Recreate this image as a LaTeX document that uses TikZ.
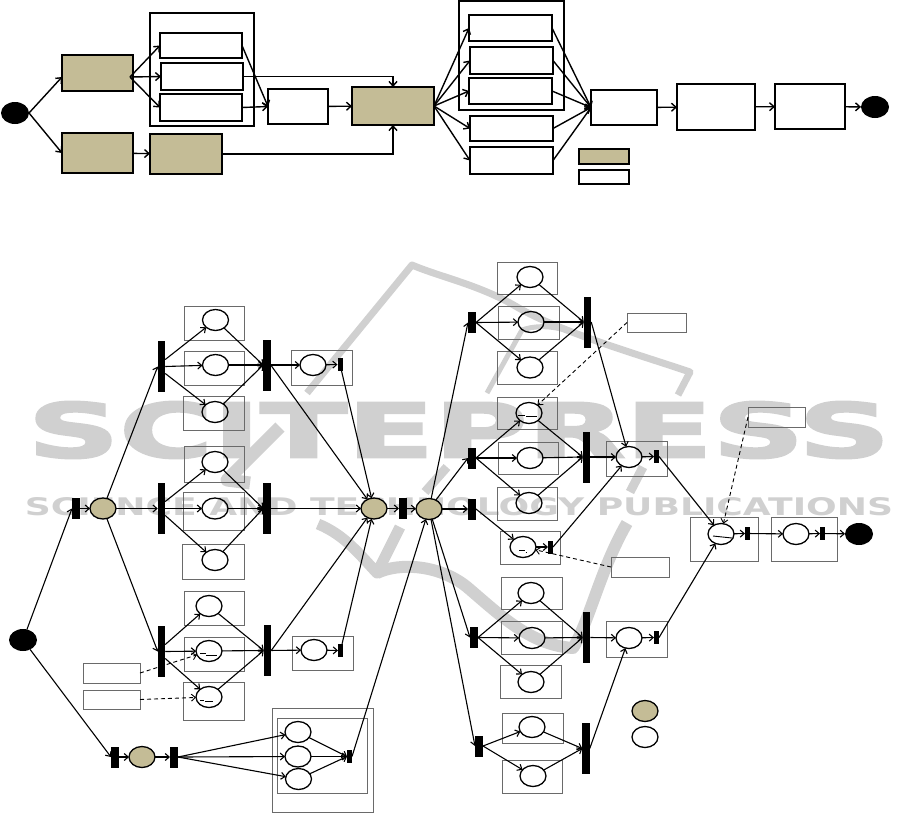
\documentclass[tikz,border=0pt]{standalone}
\usepackage{fontspec}
\usetikzlibrary{arrows.meta,shapes.geometric,calc}
\newfontfamily\wmfont[FakeBold=2.5]{DejaVu Sans}
\newfontfamily\wmsub{DejaVu Sans}
\definecolor{tan}{HTML}{C4BC96}
\definecolor{wmgray}{HTML}{D0D0D0}
\definecolor{boxgray}{HTML}{6A6A6A}
\tikzset{
  wh/.style 2 args={minimum width=#1,minimum height=#2,inner sep=0pt,outer sep=0pt},
  tanbox/.style={draw=black,fill=tan,line width=1.4pt,rectangle},
  whitebox/.style={draw=black,fill=white,line width=1.4pt,rectangle},
  groupbox/.style={draw=black,line width=1.3pt,rectangle},
  subbox/.style={draw=boxgray,line width=.9pt,rectangle},
  notebox/.style={draw=boxgray,line width=.9pt,rectangle},
  place/.style={draw=black,ellipse,line width=1.3pt,wh={26pt}{21pt}},
  tanplace/.style={place,fill=tan},
  term/.style={fill=black,ellipse,wh={28pt}{22pt}},
  bigbar/.style={fill=black,rectangle,wh={7.5pt}{51pt}},
  midbar/.style={fill=black,rectangle,wh={8pt}{21pt}},
  smallbar/.style={fill=black,rectangle,wh={5pt}{13pt}},
  conn/.style={-{Straight Barb[length=4pt,width=7pt]},line width=1.1pt},
  topconn/.style={-{Straight Barb[length=4.5pt,width=8pt]},line width=1.4pt},
  dashconn/.style={-{Straight Barb[length=4pt,width=7pt]},line width=.9pt,dash pattern=on 4pt off 3pt},
  tick/.style={line width=.9pt,black},
  band/.style={draw=wmgray,line cap=butt,line join=round},
}
\begin{document}
\begin{tikzpicture}[x=1pt,y=-1pt]
\useasboundingbox (0,0) rectangle (912,814);
% watermark
\node[inner sep=0pt,wmgray] (wma) at (459,430) {\resizebox{862pt}{56pt}{\wmfont\bfseries SCITEPRESS}};
\node[inner sep=0pt,wmgray] (wmb) at (459,506.5) {\resizebox{868pt}{18pt}{\wmsub\bfseries SCIENCE AND TECHNOLOGY PUBLICATIONS}};
\draw[band,line width=7pt] (307,393) -- (412,265) .. controls (440,277) and (480,285) .. (517,307) .. controls (560,332) and (640,355) .. (690,372) -- (678,395);
\draw[band,line width=5pt] (487,393) -- (522,330) .. controls (545,322) and (570,330) .. (585,338);
\draw[band,line width=13pt] (280,427) -- (227,480) -- (250,483);
\draw[band,line width=9pt] (447,467) -- (425,492);
\draw[band,line width=9pt] (643,467) -- (630,492);
\draw[band,line width=11pt] (318,524) .. controls (345,535) and (360,555) .. (377,573) -- (400,527);
\draw[band,line width=12pt] (377,573) .. controls (400,562) and (440,565) .. (467,587) .. controls (500,615) and (530,645) .. (573,648) .. controls (590,620) and (600,570) .. (627,523);
% === top diagram ===
\node[term] (ts) at (15,113) {};
\node[tanbox,wh={71pt}{36pt}] (ta) at (97.5,73) {};
\node[tanbox,wh={71pt}{40pt}] (tb) at (97.5,153) {};
\node[groupbox,wh={104pt}{113pt}] (tg1) at (202,69.5) {};
\node[whitebox,wh={82pt}{25pt}] (t1) at (201,45.5) {};
\node[whitebox,wh={82pt}{27pt}] (t2) at (202,76.5) {};
\node[whitebox,wh={82pt}{27pt}] (t3) at (201,107.5) {};
\node[whitebox,wh={60pt}{35pt}] (tc) at (298,106.5) {};
\node[tanbox,wh={82pt}{38pt}] (td) at (393,106) {};
\node[tanbox,wh={72pt}{40pt}] (te) at (186,154) {};
\node[groupbox,wh={105pt}{109pt}] (tg2) at (511.5,55.5) {};
\node[whitebox,wh={83pt}{26pt}] (r1) at (510.5,28) {};
\node[whitebox,wh={83pt}{27pt}] (r2) at (511.5,60.5) {};
\node[whitebox,wh={83pt}{26pt}] (r3) at (510.5,91) {};
\node[whitebox,wh={83pt}{25pt}] (r4) at (511.5,128.5) {};
\node[whitebox,wh={83pt}{27pt}] (r5) at (511.5,160.5) {};
\node[whitebox,wh={66pt}{35pt}] (tf) at (624,107.5) {};
\node[whitebox,wh={78pt}{46pt}] (tgg) at (716,107) {};
\node[whitebox,wh={70pt}{45pt}] (th) at (810,106.5) {};
\node[term] (tz) at (875,107) {};
\node[tanbox,wh={50pt}{15pt}] (lg1) at (604,156.5) {};
\node[whitebox,wh={50pt}{14pt}] (lg2) at (604,177) {};
\draw[topconn] (ts.east) -- ([yshift=-4pt]ta.west);
\draw[topconn] (ts.east) -- (tb.west);
\foreach \a/\b in {tb/te,tc/td,tf/tgg,tgg/th,th/tz}
  \draw[topconn] (\a) -- (\b);
\foreach \b in {t1,t2,t3} \draw[topconn] ([xshift=-3pt,yshift=-4pt]ta.east) -- (\b.west);
\foreach \a in {t1,t3} \draw[topconn] (\a.east) -- (tc.west);
\draw[topconn] (t2.east) -| (td.north);
\draw[topconn] (te.east) -| (td.south);
\foreach \b in {r1,r2,r3,r4,r5} \draw[topconn] (td.east) -- (\b.west);
\foreach \a in {r1,r2,r3,r4,r5} \draw[topconn] (\a.east) -- (tf.west);
% === bottom diagram: sub-boxes ===
\foreach \n/\x/\y/\w/\h in {
  s1/214/323/60/34, s2/214/368/60/34, s3/213.5/413/61/34,
  s4/214/464/60/36, s5/213.5/511/61/38, s6/213/561.5/62/35,
  s7/214/608/60/34, s8/214/654/60/34, s9/213.5/701/61/38,
  s10/321.5/367.5/61/35, s11/322.5/653/61/34,
  s12/527/278/60/32, s13/528.5/322.5/61/33, s14/527/367.5/60/33,
  s15/527/413/60/32, s16/528/458/60/32, s17/527/503.5/60/33,
  s18/530/547.5/60/33, s19/636.5/458.5/61/35,
  s20/531.5/593/61/32, s21/531.5/637.5/61/33, s22/530.5/681.5/61/33,
  s23/636.5/639/61/36, s24/532.5/728/61/30, s25/532/776.5/60/33,
  s26/724/539/68/44, s27/804/539/66/44, s28/322.5/760/101/104, s29/322/755.5/90/75}
  \node[subbox,wh={\w pt}{\h pt}] (\n) at (\x,\y) {};
\foreach \n/\x/\y/\w/\h in {
  n1/111.5/673/57/20, n2/111.5/699.5/57/19,
  n3/656.5/322.5/59/19, n4/640/567/58/20, n5/776.5/417/57/20}
  \node[notebox,wh={\w pt}{\h pt}] (\n) at (\x,\y) {};
% terminals, places, bars
\node[term] (bs) at (23,640) {};
\node[term] (bz) at (859,534) {};
\node[tanplace] (p0) at (103,508.5) {};
\node[tanplace] (p1) at (374,508.5) {};
\node[tanplace] (p2) at (429,509) {};
\node[tanplace] (p3) at (142,757) {};
\node[tanplace] (lgp1) at (645,711) {};
\node[place] (lgp2) at (645,737) {};
\foreach \n/\x/\y in {
  a1/215.5/320, a2/215.5/365, a3/215/412,
  a4/215/462, a5/215/508.5, a6/215/560,
  a7/209/606, a8/209/651, a9/209/697,
  a10/313/365, a11/314/650,
  c1/298/732, c2/298/756.5, c3/298.5/779,
  d1/530/277, d2/531/322, d3/530/367.5,
  d4/529/413, d5/530/458, d6/529/503,
  d7/523/547, d8/629/457,
  e1/531/593, e2/532/638, e3/531/682, e4/629/638,
  e5/532/727, e6/533/776,
  f1/721/534, f2/796/534}
  \node[place] (\n) at (\x,\y) {};
\foreach \n/\x/\y in {
  fa/161.5/366.5, fb/161.5/508.5, fc/161.5/651.5,
  ja/267/365, jb/267/508.5, jc/267.5/650.5,
  jd/587.5/322, je/586.5/457, jf/586.5/637.5, jg/586/748.5}
  \node[bigbar] (\n) at (\x,\y) {};
\foreach \n/\x/\y in {
  b1/76/508.5, b2/403/508.5, b3/115/757, b4/174/757,
  g1/472/322.5, g2/472/458, g3/472/509, g4/474/637.5, g5/479/746}
  \node[midbar] (\n) at (\x,\y) {};
\foreach \n/\x/\y in {
  h1/340/364.5, h2/340.5/650.5, h3/349.5/756.5, h4/550.5/547,
  h5/656.5/456.5, h6/656.5/637.5, h7/747.5/533.5, h8/822.5/533.5}
  \node[smallbar] (\n) at (\x,\y) {};
% connectors
\foreach \a/\b in {
  bs/b1.west, bs/b3.west, b1/p0, b3/p3, p3/b4,
  p0/fa.west, p0/fb.west, p0/fc.west, ja/a10, a10/h1, jc/a11, a11/h2,
  p1/b2, b2/p2, p2/g1.west, p2/g2.west, p2/g3.west, p2/g4.west, p2/g5.west,
  h1/p1, h2/p1, ja.east/p1, jb.east/p1, jc.east/p1,
  h3.east/p2, je.east/d8, d8/h5, jf.east/e4, e4/h6, jg.east/e4, h4.east/d8,
  d7/h4, g3.east/d7, h5.east/f1, h6.east/f1, f1/h7, h7/f2, f2/h8, h8/bz,
  jd.east/d8, b4.east/c1, b4.east/c2, b4.east/c3, c1/h3.west, c2/h3.west, c3/h3.west,
  e5/jg.west, e6/jg.west, g5.east/e5, g5.east/e6}
  \draw[conn] (\a) -- (\b);
\foreach \f/\o/\ca/\cb/\cc/\j in {
  fa/7/a1/a2/a3/ja, fb/7/a4/a5/a6/jb, fc/7/a7/a8/a9/jc,
  g1/0/d1/d2/d3/jd, g2/0/d4/d5/d6/je, g4/0/e1/e2/e3/jf}{
  \draw[conn] ([yshift=\o pt]\f.east) -- (\ca);
  \draw[conn] (\f.east) -- (\cb);
  \draw[conn] ([yshift=-\o pt]\f.east) -- (\cc);
  \draw[conn] (\ca) -- (\j.west);
  \draw[conn] (\cb) -- (\j.west);
  \draw[conn] (\cc) -- (\j.west);
}
\draw[dashconn] (n1.east) -- (a8);
\draw[dashconn] (n2.east) -- (a9);
\draw[dashconn] (n3.west) -- (d4);
\draw[dashconn] (n4.west) -- (d7);
\draw[dashconn] (n5.west) -- (f1);
% small marks inside places
\draw[tick] (200,653.3) -- (206,653.3) (206,655.3) -- (217,655.3);
\draw[tick] (200,700) -- (204,700) (205,701.3) -- (213,701.3);
\draw[tick] (518,415) -- (525,415) (526,416.7) -- (537,416.7);
\draw[tick] (519,550.7) -- (525,550.7) (525.5,552.3) -- (527,552.3);
\draw[tick] (713,536) -- (732,538);
\end{tikzpicture}
\end{document}
